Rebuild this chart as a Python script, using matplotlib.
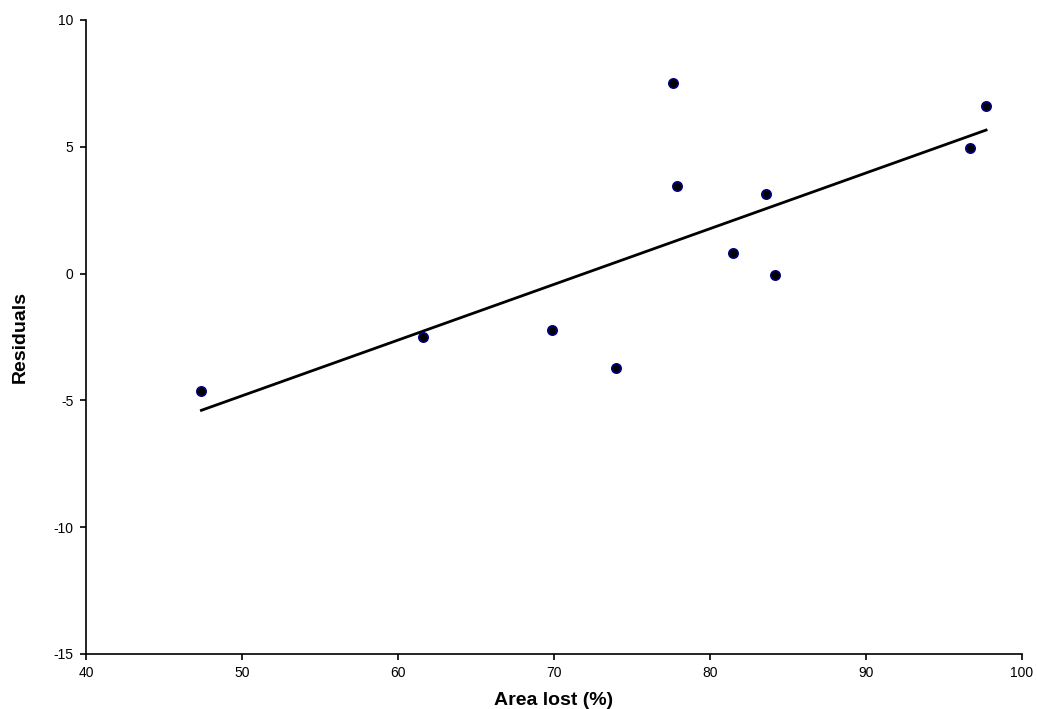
import numpy as np
import matplotlib.pyplot as plt

plt.rcParams['font.family'] = ['Liberation Sans', 'DejaVu Sans']
plt.rcParams['axes.unicode_minus'] = False

area_lost = [47.4, 61.6, 69.9, 74.0, 77.6, 77.9, 81.5, 83.6, 84.2, 96.7, 97.7]
residuals = [-4.63, -2.50, -2.22, -3.72, 7.52, 3.45, 0.81, 3.14, -0.06, 4.95, 6.61]

x = np.array(area_lost)
y = np.array(residuals)
slope, intercept = np.polyfit(x, y, 1)
xs = np.array([x.min(), x.max()])

fig = plt.figure(figsize=(10.37, 7.09), dpi=100)
ax = fig.add_axes([0.0829, 0.0776, 0.9026, 0.8942])

ax.plot(xs, slope * xs + intercept, color='black', lw=2)
ax.scatter(x, y, s=45, color='black', edgecolors='#000080', linewidths=1.2, zorder=3)

ax.set_xlim(40, 100)
ax.set_ylim(-15, 10)
ax.set_xticks(np.arange(40, 101, 10))
ax.set_yticks(np.arange(-15, 11, 5))
ax.spines['top'].set_visible(False)
ax.spines['right'].set_visible(False)
ax.spines['left'].set_linewidth(1.2)
ax.spines['bottom'].set_linewidth(1.2)
ax.tick_params(direction='out', length=4, width=1.2, labelsize=10, pad=5)
ax.set_xlabel('Area lost (%)', fontsize=14, fontweight='bold', labelpad=8)
ax.set_ylabel('Residuals', fontsize=14, fontweight='bold', labelpad=18)

fig.savefig('out.png', dpi=100)
